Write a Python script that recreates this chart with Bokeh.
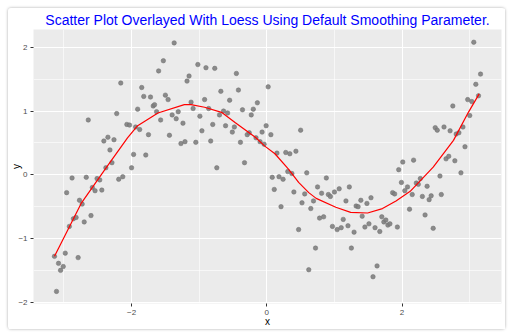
from bokeh.plotting import figure
from bokeh.models import FixedTicker, Range1d
from bokeh.embed import file_html
from bokeh.resources import INLINE

title_text = "Scatter Plot Overlayed With Loess Using Default Smoothing Parameter."

pts = [
    (-3.14, -1.28), (-3.11, -1.83), (-3.08, -1.39), (-3.05, -1.50), (-3.01, -1.44), (-2.98, -1.23),
    (-2.96, -0.28), (-2.92, -0.81), (-2.88, -0.05), (-2.86, -0.69), (-2.82, -0.67), (-2.79, -1.30),
    (-2.77, -0.40), (-2.73, -0.46), (-2.70, -0.74), (-2.67, -0.04), (-2.64, 0.86), (-2.60, -0.64),
    (-2.58, -0.20), (-2.54, -0.25), (-2.51, -0.06), (-2.47, -0.08), (-2.44, -0.24), (-2.41, 0.53),
    (-2.38, 0.11), (-2.35, 0.59), (-2.32, 0.39), (-2.29, 0.19), (-2.26, 0.55), (-2.22, 0.96),
    (-2.19, -0.07), (-2.16, 1.44), (-2.13, -0.03), (-2.07, 0.79),
    (-2.03, 0.78), (-2.00, 0.11), (-1.97, 0.32), (-1.94, 0.75), (-1.91, 1.03), (-1.88, 0.71),
    (-1.85, 1.37), (-1.82, 1.23), (-1.79, 0.31), (-1.75, 0.63), (-1.72, 1.22), (-1.68, 1.08),
    (-1.66, 1.10), (-1.63, 0.99), (-1.60, 1.63), (-1.57, 0.86), (-1.53, 1.79), (-1.50, 1.25),
    (-1.46, 1.18), (-1.44, 0.62), (-1.40, 0.94), (-1.37, 2.07), (-1.34, 0.88), (-1.31, 0.99),
    (-1.27, 0.49), (-1.24, 0.81), (-1.21, 0.52), (-1.18, 1.47), (-1.15, 1.55), (-1.12, 1.14),
    (-1.09, 1.04), (-1.05, 0.51), (-1.02, 1.73), (-0.99, 0.92), (-0.96, 0.69), (-0.92, 1.18),
    (-0.90, 1.68), (-0.86, 1.04), (-0.83, 0.53), (-0.80, 0.79), (-0.77, 1.67), (-0.74, 0.11),
    (-0.70, 0.94), (-0.68, 1.31),
    (-0.64, 1.00), (-0.61, 0.77), (-0.58, 0.97), (-0.55, 1.17), (-0.51, 0.67), (-0.48, 0.75),
    (-0.45, 1.59), (-0.42, 1.33), (-0.39, 0.51), (-0.36, 1.02), (-0.33, 0.19), (-0.29, 0.63),
    (-0.26, 0.66), (-0.23, 0.94), (-0.20, 1.03), (-0.16, 0.58), (-0.14, 1.13), (-0.10, 0.52),
    (-0.07, 0.67), (-0.04, 0.48), (-0.01, 0.77), (0.02, 1.38), (0.06, 0.63), (0.08, -0.04),
    (0.11, -0.23), (0.15, 0.34), (0.18, -0.03), (0.21, -0.50), (0.24, -0.07), (0.28, 0.35),
    (0.31, 0.05), (0.34, 0.33), (0.37, 0.02), (0.40, -0.27), (0.43, 0.37), (0.47, -0.86),
    (0.50, 0.70), (0.52, -0.44), (0.56, -0.30), (0.59, 0.03), (0.62, -1.49), (0.65, -0.53),
    (0.69, -0.41), (0.72, -1.15),
    (0.75, -0.19), (0.78, -0.68), (0.81, -0.29), (0.84, -0.66), (0.88, -0.05), (0.91, -0.31),
    (0.94, -0.34), (0.97, -0.81), (1.00, -0.27), (1.04, -0.86), (1.07, -0.22), (1.10, -0.83),
    (1.13, -0.70), (1.17, -0.41), (1.20, -0.80), (1.22, -0.19), (1.25, -1.15), (1.29, -0.90),
    (1.32, -0.49), (1.35, -0.50), (1.39, -0.40), (1.41, -0.65), (1.45, -0.82), (1.48, -0.45),
    (1.51, -0.77), (1.54, -0.36), (1.57, -1.60), (1.60, -0.83), (1.63, -1.43), (1.67, -0.89),
    (1.70, -0.66), (1.73, -0.74), (1.76, -0.71), (1.79, -0.79), (1.82, -0.77), (1.86, -0.28),
    (1.89, -0.30), (1.93, -0.82), (1.95, 0.08), (1.99, -0.12), (2.01, 0.20), (2.04, -0.25),
    (2.08, -0.19), (2.11, -0.54),
    (2.15, -0.31), (2.17, 0.23), (2.21, -0.13), (2.24, -0.15), (2.27, -0.06), (2.30, -0.34),
    (2.34, -0.63), (2.37, -0.18), (2.40, -0.39), (2.43, -0.33), (2.46, -0.84), (2.49, 0.74),
    (2.52, 0.70), (2.56, -0.02), (2.58, -0.31), (2.62, 0.75), (2.65, 0.25), (2.69, 0.29),
    (2.71, 0.69), (2.75, 1.08), (2.78, 0.22), (2.80, 0.64), (2.84, 0.66), (2.87, 0.03),
    (2.90, 0.75), (2.93, 0.44), (2.97, 1.18), (3.00, 0.93), (3.03, 1.15), (3.06, 2.08),
    (3.09, 1.42), (3.13, 1.24), (3.16, 1.58),
]
x_vals = [p[0] for p in pts]
y_vals = [p[1] for p in pts]

loess_x = [-3.14, -2.74, -2.39, -2.06, -1.91, -1.61, -1.22, -1.12, -0.92, -0.67, -0.47, -0.17,
           -0.03, 0.12, 0.32, 0.47, 0.62, 0.73, 1.02, 1.24, 1.49, 1.71, 1.91, 2.12, 2.46, 2.76,
           2.98, 3.14]
loess_y = [-1.28, -0.44, 0.09, 0.58, 0.77, 0.97, 1.10, 1.10, 1.06, 0.98, 0.82, 0.59,
           0.45, 0.33, 0.09, -0.12, -0.28, -0.37, -0.51, -0.59, -0.60, -0.53, -0.41, -0.26, 0.12, 0.54,
           0.98, 1.27]

x_major = [-2, 0, 2]
x_minor = [-3, -1, 1, 3]
y_major = [-2, -1, 0, 1, 2]
y_minor = [-1.5, -0.5, 0.5, 1.5]

p = figure(width=497, height=321, output_backend="svg", toolbar_location=None,
           x_range=Range1d(-3.45, 3.47), y_range=Range1d(-2.02, 2.28),
           min_border_left=0, min_border_right=4, min_border_top=0, min_border_bottom=0,
           styles={"margin-left": "8px", "margin-top": "8px", "border-radius": "3px",
                   "box-shadow": "0 0 3px rgba(0,0,0,0.35)"})

p.title.text = title_text
p.title.align = "center"
p.title.text_color = "#0000FF"
p.title.text_font = "Liberation Sans"
p.title.text_font_size = "14px"
p.title.text_font_style = "normal"
p.title.standoff = 3

p.background_fill_color = "#EBEBEB"
p.border_fill_color = "white"
p.outline_line_color = None

for ax, maj, mnr in ((p.xaxis, x_major, x_minor), (p.yaxis, y_major, y_minor)):
    ax.ticker = FixedTicker(ticks=maj, minor_ticks=mnr)
    ax.axis_line_color = None
    ax.major_tick_line_color = "#333333"
    ax.major_tick_out = 3
    ax.major_tick_in = 0
    ax.minor_tick_line_color = None
    ax.major_label_text_font = "Liberation Sans"
    ax.major_label_text_font_size = "8px"
    ax.major_label_text_color = "#4D4D4D"
    ax.axis_label_text_font = "Liberation Sans"
    ax.axis_label_text_font_size = "10px"
    ax.axis_label_text_font_style = "normal"
    ax.axis_label_text_color = "black"
    ax.major_label_standoff = 2

p.xaxis.axis_label = "x"
p.yaxis.axis_label = "y"
p.xaxis.axis_label_standoff = -2
p.yaxis.axis_label_standoff = -7

for g in (p.xgrid, p.ygrid):
    g.grid_line_color = "white"
    g.grid_line_width = 1.1
    g.minor_grid_line_color = "white"
    g.minor_grid_line_width = 0.6

p.scatter(x_vals, y_vals, size=4.5, fill_color="#7F7F7F", line_color="#6F6F6F",
          line_width=0.5, fill_alpha=0.9)
p.line(loess_x, loess_y, line_color="red", line_width=1.2)

open("out.html", "w").write(file_html(p, INLINE))
